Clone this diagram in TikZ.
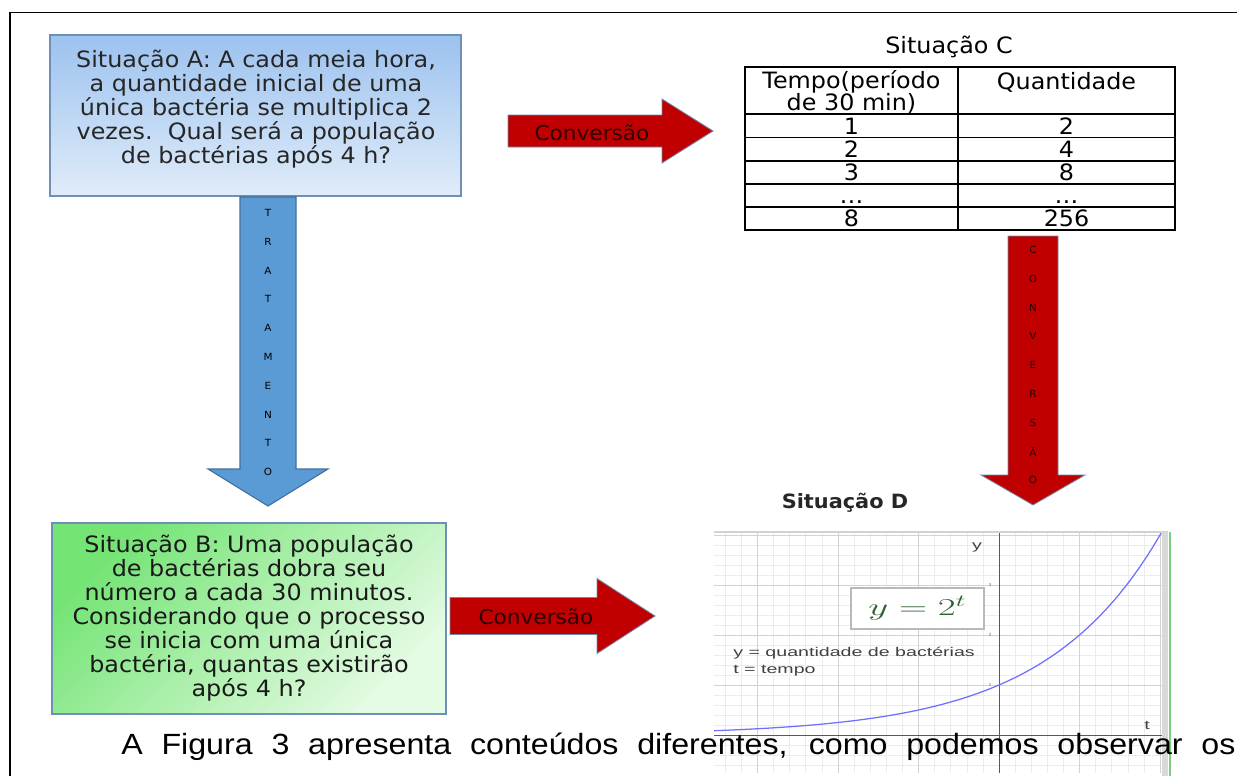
\documentclass[tikz,border=0pt]{standalone}
\usepackage{fontspec}
\setmainfont[FakeStretch=1.06]{DejaVu Sans}
\newfontfamily\captionFont[FakeStretch=1.1]{Liberation Sans}
\newfontfamily\ggbFont[FakeStretch=1.55]{Liberation Sans}
\usepackage{xcolor}
\usepackage{graphicx}
\definecolor{SITATOP}{HTML}{9CC2EF}
\definecolor{SITABOT}{HTML}{E0ECF9}
\definecolor{SITBTOP}{HTML}{74E474}
\definecolor{SITBBOT}{HTML}{E4FBE4}
\definecolor{BOXBORDER}{HTML}{6E8FB8}
\definecolor{TRATCOLOR}{HTML}{5B9BD5}
\definecolor{TRATBORDER}{HTML}{41719C}
\definecolor{CONVCOLOR}{HTML}{C00000}
\definecolor{CONVBORDER}{HTML}{6F8CAD}
\definecolor{CONVTEXT}{HTML}{2A0000}
\definecolor{EQCOLOR}{HTML}{2E622E}
\definecolor{CURVECOLOR}{HTML}{7070FF}
\usepackage{tikz}
\usetikzlibrary{positioning,calc}
\newcommand\boxFont{\fontsize{16}{17}\selectfont\lineskiplimit=-\maxdimen}
\tikzset{
  sit-box/.style = {
    rectangle, draw=BOXBORDER, line width=1pt, inner sep=0pt
  },
  sit-text/.style = {
    align=center, inner sep=0pt, font=\boxFont
  },
  conv-style/.style = {
    fill=CONVCOLOR, draw=CONVBORDER, line width=0.6pt
  },
  trat-style/.style = {
    fill=TRATCOLOR, draw=TRATBORDER, line width=0.8pt
  },
  conv-text/.style = {
    font={\fontsize{14.5}{16}\selectfont}, text=CONVTEXT, inner sep=0pt
  },
  letter-style/.style = {
    font={\fontsize{7}{8}\selectfont}, inner sep=0pt
  },
  cell-text/.style = {
    font=\boxFont, inner sep=0pt, text height=11.7pt, text depth=0pt
  },
  table-line/.style = {
    draw=black, line width=1pt
  },
  minor-grid/.style = {
    draw=gray!15, line width=0.4pt
  },
  major-grid/.style = {
    draw=gray!35, line width=0.5pt
  },
  axis-style/.style = {
    draw=black!65, line width=0.7pt
  },
  ggb-text/.style = {
    font={\ggbFont\fontsize{9}{11}\selectfont}, text=black!75, inner sep=0pt
  },
  caption-style/.style = {
    font={\captionFont\fontsize{20.8}{24}\selectfont}, inner sep=0pt
  }
}
\def\convArrow from:#1 base:#2 tip:#3 y:#4 shaft:#5 head:#6;{
  \draw[conv-style] (#1,#4-#5) -- (#2,#4-#5) -- (#2,#4-#6) -- (#3,#4)
    -- (#2,#4+#6) -- (#2,#4+#5) -- (#1,#4+#5) -- cycle;
}
\def\downArrow style:#1 x:#2 top:#3 base:#4 tip:#5 shaft:#6 head:#7;{
  \draw[#1] (#2-#6,#3) -- (#2+#6,#3) -- (#2+#6,#4) -- (#2+#7,#4) -- (#2,#5)
    -- (#2-#7,#4) -- (#2-#6,#4) -- cycle;
}
\begin{document}
\begin{tikzpicture}[x=0.025cm,y=-0.025cm]
  \useasboundingbox (0,0) rectangle (1237,776);
  % page frame
  \draw[line width=1.4pt] (10,776) -- (10,12.5) -- (1237,12.5);

  % situacao A and B
  \node[sit-box, top color=SITATOP, bottom color=SITABOT,
        minimum width=10.275cm, minimum height=4.025cm] (sitA) at (255.5,115.5) {};
  \node[sit-text, text=black!85] (sitA-text) at (256,109)
    {Situação A: A cada meia hora,\\ a quantidade inicial de uma\\
     única bactéria se multiplica 2\\ vezes.\ \ Qual será a população\\
     de bactérias após 4 h?};
  \node[sit-box, top color=SITBTOP, bottom color=SITBBOT, shading angle=45,
        minimum width=9.85cm, minimum height=4.775cm] (sitB) at (249,618.5) {};
  \node[sit-text, text=black!90] (sitB-text) at (249,618)
    {Situação B: Uma população\\ de bactérias dobra seu\\ número a cada 30 minutos.\\
     Considerando que o processo\\ se inicia com uma única\\
     bactéria, quantas existirão\\ após 4 h?};

  % block arrows
  \convArrow from:508 base:662 tip:713 y:131 shaft:16 head:32;
  \node[conv-text] (convAC) at (592,133) {Conversão};
  \convArrow from:450 base:597 tip:655 y:616 shaft:18.5 head:37.5;
  \node[conv-text] (convBD) at (536,617) {Conversão};

  \downArrow style:trat-style x:268 top:197 base:469 tip:506 shaft:28 head:60;
  \foreach \ch [count=\i from 0] in {T,R,A,T,A,M,E,N,T,O}
    \node[letter-style] (trat-\i) at (268,213+28.8*\i) {\ch};
  \downArrow style:conv-style x:1033 top:236 base:475 tip:505 shaft:25 head:52;
  \foreach \ch [count=\i from 0] in {C,O,N,V,E,R,S,Ã,O}
    \node[letter-style, text=CONVTEXT] (convCD-\i) at (1033,250+28.8*\i) {\ch};

  % situacao C
  \node[font=\boxFont, inner sep=0pt] (titleC) at (949,47) {Situação C};
  \draw[table-line] (745,67) rectangle (1175,230);
  \draw[table-line] (958,67) -- (958,230);
  \foreach \y in {114,137.5,161,184,207}
    \draw[table-line] (745,\y) -- (1175,\y);
  \node[sit-text, font={\fontsize{16}{15.5}\selectfont\lineskiplimit=-\maxdimen}]
    (head-tempo) at (851.5,92) {Tempo(período\\de 30 min)};
  \node[cell-text] (head-quant) at (1066.5,81) {Quantidade};
  \foreach \a/\b [count=\r from 0] in {1/2,2/4,3/8,\dots/\dots,8/256} {
    \node[cell-text] (tempo-\r) at (851.5,126+23.1*\r) {\a};
    \node[cell-text] (quant-\r) at (1066.5,126+23.1*\r) {\b};
  }

  % situacao D
  \node[font={\bfseries\fontsize{14}{16}\selectfont}, text=black!85, inner sep=0pt]
    (titleD) at (845,503) {Situação D};
  \begin{scope}
    \clip (714,532) rectangle (1162,772);
    \begin{scope}[shift={(999,735)}, x=2.0125cm, y=1.25cm]
      \foreach \t in {-18,...,10}
        \draw[minor-grid] (\t/5,-1) -- (\t/5,4.2);
      \foreach \v in {-5,...,21}
        \draw[minor-grid] (-3.7,\v/5) -- (2.1,\v/5);
      \foreach \t in {-3,...,2}
        \draw[major-grid] (\t,-1) -- (\t,4.2);
      \foreach \v in {1,...,4}
        \draw[major-grid] (-3.7,\v) -- (2.1,\v);
      \draw[axis-style] (-3.7,0) -- (2.1,0);
      \draw[axis-style] (0,-1) -- (0,4.2);
      \foreach \v in {1,2,3}
        \node[font={\fontsize{3}{3}\selectfont}, text=black!60, inner sep=0pt]
          (tick-\v) at (-0.11,\v) {\v};
      \draw[CURVECOLOR, line width=0.9pt, domain=-3.6:2.05, samples=80]
        plot (\x,{exp(0.693147*\x)});
    \end{scope}
  \end{scope}
  \draw[gray!35, line width=2pt] (714,532) -- (1168,532);
  \fill[gray!30] (1162,532) rectangle (1168,776);
  \draw[green!45!gray!70, line width=0.8pt] (1170,532) -- (1170,776);
  \node[ggb-text] (axis-y) at (977,547) {y};
  \node[ggb-text] (axis-t) at (1147,725) {t};
  \node[draw=gray!55, fill=white, line width=0.8pt, minimum width=3.325cm,
        minimum height=1.025cm, inner sep=0pt] (eqbox) at (917.5,608.5)
    {\fontsize{17.28}{20}\selectfont\color{EQCOLOR}\scalebox{1.6}[1]{$y = 2^t$}};
  \node[ggb-text, anchor=west] (legend-y) at (733,653) {y = quantidade de bactérias};
  \node[ggb-text, below=4pt of legend-y.south west, anchor=north west] (legend-t)
    {t = tempo};

  % texto da pagina
  \node[caption-style, anchor=base west] (caption) at (121,754)
    {\makebox[27.85cm][s]{A Figura 3 apresenta conteúdos diferentes, como podemos observar os}};
\end{tikzpicture}
\end{document}
